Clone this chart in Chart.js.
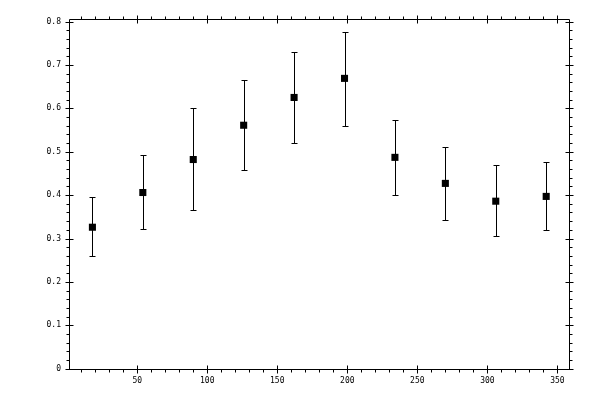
<!DOCTYPE html>
<html>
<head>
<meta charset="utf-8">
<script src="https://cdn.jsdelivr.net/npm/chart.js@4/dist/chart.umd.min.js"></script>
<style>
  body { margin: 0; background: #fff; }
  #wrap { width: 600px; height: 400px; }
</style>
</head>
<body>
<div id="wrap"><canvas id="myChart" width="600" height="400"></canvas></div>
<script>
// data
const xValues = [18, 54, 90, 126, 162, 198, 234, 270, 306, 342];
const yValues = [0.326, 0.406, 0.482, 0.561, 0.625, 0.669, 0.487, 0.427, 0.386, 0.397];
const yLow    = [0.259, 0.321, 0.365, 0.459, 0.519, 0.559, 0.400, 0.342, 0.305, 0.319];
const yHigh   = [0.395, 0.492, 0.600, 0.665, 0.729, 0.777, 0.574, 0.512, 0.469, 0.476];

const xTicks = [50, 100, 150, 200, 250, 300, 350];
const yTicks = [0, 0.1, 0.2, 0.3, 0.4, 0.5, 0.6, 0.7, 0.8];
const xMinorStep = 10;
const yMinorStep = 0.02;

const points = xValues.map((x, i) => ({ x: x, y: yValues[i] }));

// frame, ticks and error bars
const framePlugin = {
  id: 'frame',
  beforeDatasetsDraw(chart) {
    const ctx = chart.ctx;
    const a = chart.chartArea;
    const xs = chart.scales.x;
    const ys = chart.scales.y;
    const L = Math.round(a.left) - 0.5, R = Math.round(a.right) - 0.5;
    const T = Math.round(a.top) - 0.5, B = Math.round(a.bottom) - 0.5;
    ctx.save();
    ctx.strokeStyle = '#000';
    ctx.lineWidth = 1;
    ctx.beginPath();
    ctx.rect(L, T, R - L, B - T);

    // x minor ticks (outward)
    for (let v = xMinorStep; v < xs.max; v += xMinorStep) {
      if (v < xs.min || xTicks.indexOf(v) >= 0) continue;
      const px = Math.round(xs.getPixelForValue(v)) + 0.5;
      ctx.moveTo(px, B); ctx.lineTo(px, B + 3);
      ctx.moveTo(px, T); ctx.lineTo(px, T - 3);
    }
    // x major ticks (crossing)
    xTicks.forEach(v => {
      const px = Math.round(xs.getPixelForValue(v)) + 0.5;
      ctx.moveTo(px, B - 4); ctx.lineTo(px, B + 4);
      ctx.moveTo(px, T - 4); ctx.lineTo(px, T + 4);
    });
    // y minor ticks (outward)
    for (let k = 1; k * yMinorStep < ys.max; k++) {
      if (k % 5 === 0) continue;
      const py = Math.round(ys.getPixelForValue(k * yMinorStep)) + 0.5;
      ctx.moveTo(L, py); ctx.lineTo(L - 3, py);
      ctx.moveTo(R, py); ctx.lineTo(R + 3, py);
    }
    // y major ticks (crossing)
    yTicks.forEach(v => {
      const py = Math.round(ys.getPixelForValue(v)) + 0.5;
      ctx.moveTo(L - 4, py); ctx.lineTo(L + 4, py);
      ctx.moveTo(R - 4, py); ctx.lineTo(R + 4, py);
    });
    ctx.stroke();

    // error bars
    ctx.beginPath();
    xValues.forEach((x, i) => {
      const px = Math.round(xs.getPixelForValue(x)) + 0.5;
      const lo = Math.round(ys.getPixelForValue(yLow[i])) + 0.5;
      const hi = Math.round(ys.getPixelForValue(yHigh[i])) + 0.5;
      ctx.moveTo(px, lo); ctx.lineTo(px, hi);
      ctx.moveTo(px - 3, lo); ctx.lineTo(px + 3, lo);
      ctx.moveTo(px - 3, hi); ctx.lineTo(px + 3, hi);
    });
    ctx.stroke();
    ctx.restore();
  }
};

const tickFont = { family: 'DejaVu Sans Mono', size: 8 };

const config = {
  type: 'scatter',
  data: {
    datasets: [{
      data: points,
      pointStyle: 'rect',
      pointRadius: 5,
      pointHoverRadius: 5,
      backgroundColor: '#000',
      borderColor: '#000',
      borderWidth: 0,
      showLine: false
    }]
  },
  options: {
    responsive: false,
    animation: false,
    events: [],
    layout: { padding: { top: 20, right: 30, left: 0, bottom: 0 } },
    plugins: {
      legend: { display: false },
      tooltip: { enabled: false }
    },
    scales: {
      x: {
        type: 'linear',
        min: 2,
        max: 359,
        grid: { display: false, drawTicks: false },
        border: { display: false },
        afterBuildTicks: s => { s.ticks = xTicks.map(v => ({ value: v })); },
        afterFit: s => { s.height = 30; },
        ticks: {
          color: '#000',
          font: tickFont,
          padding: 6,
          maxRotation: 0,
          autoSkip: false,
          callback: v => String(v)
        }
      },
      y: {
        type: 'linear',
        min: -0.003,
        max: 0.8035,
        grid: { display: false, drawTicks: false },
        border: { display: false },
        afterBuildTicks: s => { s.ticks = yTicks.map(v => ({ value: v })); },
        afterFit: s => { s.width = 70; },
        ticks: {
          color: '#000',
          font: tickFont,
          padding: 9,
          autoSkip: false,
          callback: v => String(v)
        }
      }
    }
  },
  plugins: [framePlugin]
};

const myChart = new Chart(document.getElementById('myChart'), config);
</script>
</body>
</html>
